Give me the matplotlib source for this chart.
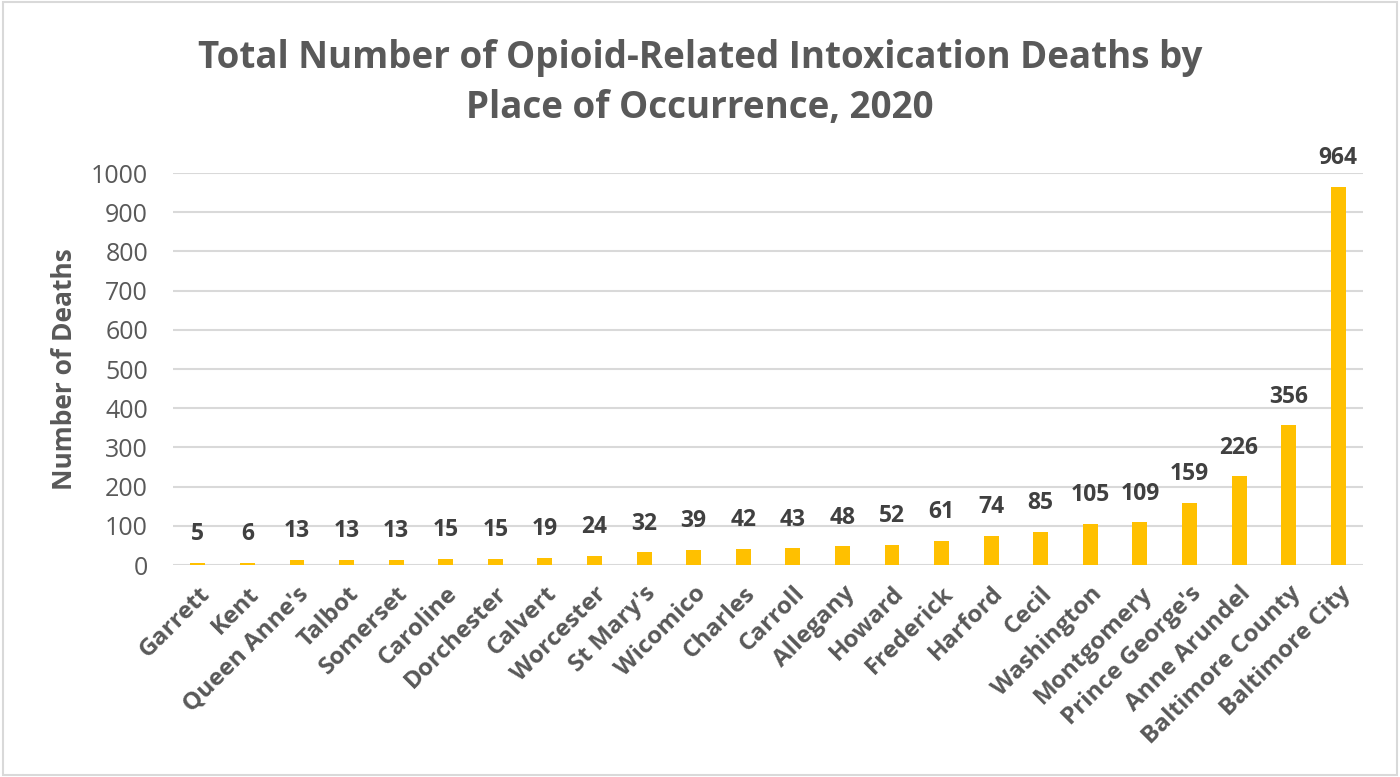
import matplotlib.pyplot as plt
import numpy as np

plt.rcParams['font.family'] = ['Open Sans', 'DejaVu Sans']

counties = ["Garrett", "Kent", "Queen Anne's", "Talbot", "Somerset", "Caroline",
            "Dorchester", "Calvert", "Worcester", "St Mary's", "Wicomico", "Charles",
            "Carroll", "Allegany", "Howard", "Frederick", "Harford", "Cecil",
            "Washington", "Montgomery", "Prince George's", "Anne Arundel",
            "Baltimore County", "Baltimore City"]
deaths = [5, 6, 13, 13, 13, 15, 15, 19, 24, 32, 39, 42, 43, 48, 52, 61, 74, 85,
          105, 109, 159, 226, 356, 964]
yticks = [0, 100, 200, 300, 400, 500, 600, 700, 800, 900, 1000]

grey = '#595959'
bar_col = '#FFC000'

fig = plt.figure(figsize=(14, 7.77), dpi=100)
ax = fig.add_axes([0.1236, 0.2728, 0.8500, 0.5045])

x = np.arange(len(counties))
ax.bar(x, deaths, width=0.3, color=bar_col, zorder=3)

# data labels sit a fixed distance above each bar
for xi, v in zip(x, deaths):
    ax.annotate(str(v), (xi, v), xytext=(0, 12), textcoords='offset points',
                ha='center', va='bottom', fontsize=16.5, fontweight='bold',
                color='#404040', annotation_clip=False)

ax.set_xlim(-0.5, len(counties) - 0.5)
ax.set_ylim(0, 1000)
ax.set_yticks(yticks)
ax.set_yticklabels([str(t) for t in yticks], fontsize=18, color=grey)
ax.set_xticks(x)
ax.set_xticklabels(counties, rotation=45, ha='right', rotation_mode='anchor',
                   fontsize=17.5, fontweight='bold', color=grey)
ax.tick_params(axis='y', length=0, pad=18)
ax.tick_params(axis='x', length=0, pad=12)
ax.grid(axis='y', color='#d9d9d9', linewidth=1.5, zorder=0)
for s in ax.spines.values():
    s.set_visible(False)

ax.set_ylabel('Number of Deaths', fontsize=19, fontweight='bold', color=grey)
ax.yaxis.set_label_coords(-0.08, 0.5)

fig.text(0.5, 0.893, 'Total Number of Opioid-Related Intoxication Deaths by\nPlace of Occurrence, 2020',
         ha='center', va='center', fontsize=26.5, fontweight='bold', color=grey,
         linespacing=1.42)

fig.patches.append(plt.Rectangle((0.002, 0.003), 0.996, 0.994, transform=fig.transFigure,
                                 fill=False, edgecolor='#d9d9d9', linewidth=1.5))

fig.savefig('out.png', dpi=100, facecolor='white')
